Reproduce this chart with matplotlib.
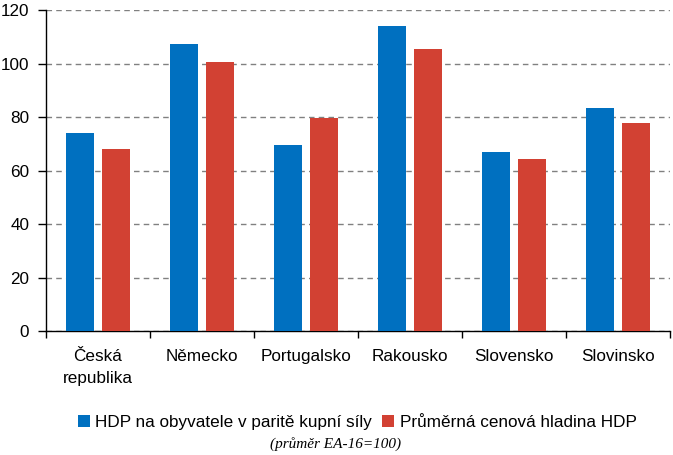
import numpy as np
import matplotlib.pyplot as plt
from matplotlib.ticker import FixedLocator, NullFormatter

categories = ["Česká\nrepublika", "Německo", "Portugalsko", "Rakousko", "Slovensko", "Slovinsko"]
hdp = [74.0, 107.3, 69.5, 114.0, 66.9, 83.4]
ceny = [68.0, 100.6, 79.6, 105.4, 64.3, 77.8]
series_names = ["HDP na obyvatele v paritě kupní síly", "Průměrná cenová hladina HDP"]
colors = ["#0070C0", "#D24133"]

plt.rcParams['font.family'] = ['Liberation Sans', 'DejaVu Sans']

fig = plt.figure(figsize=(6.73, 4.55), dpi=100)
ax = fig.add_axes([0.0684, 0.2725, 0.927, 0.7055])

x = np.arange(len(categories))
w = 0.27
off = 0.173
ax.bar(x - off, hdp, w, color=colors[0], label=series_names[0], zorder=3)
ax.bar(x + off, ceny, w, color=colors[1], label=series_names[1], zorder=3)

ax.set_xlim(-0.5, len(categories) - 0.5)
ax.set_ylim(0, 120)
ax.set_yticks(np.arange(0, 121, 20))
ax.yaxis.grid(True, linestyle=(0, (4, 3)), color='#808080', linewidth=1, zorder=0)

ax.set_xticks(x)
ax.set_xticklabels(categories, fontsize=12.3, linespacing=1.6)
ax.tick_params(axis='x', length=0, pad=13)
ax.xaxis.set_minor_locator(FixedLocator(np.arange(-0.5, len(categories), 1)))
ax.xaxis.set_minor_formatter(NullFormatter())
ax.tick_params(axis='x', which='minor', length=5, width=1, direction='out')
ax.tick_params(axis='y', labelsize=12.3, length=6, width=1, direction='out', pad=6)

for s in ['top', 'right']:
    ax.spines[s].set_visible(False)
for s in ['left', 'bottom']:
    ax.spines[s].set_linewidth(1)
    ax.spines[s].set_color('black')

fig.legend(loc='center', bbox_to_anchor=(0.531, 0.072), ncol=2, frameon=False,
           fontsize=12.3, handlelength=0.7, handleheight=0.7, handletextpad=0.3,
           columnspacing=0.6)
fig.text(0.499, 0.024, "(průměr EA-16=100)", ha='center', va='center',
         fontsize=11, style='italic', family=['Liberation Serif', 'DejaVu Serif'])

fig.savefig("out.png", dpi=100)
